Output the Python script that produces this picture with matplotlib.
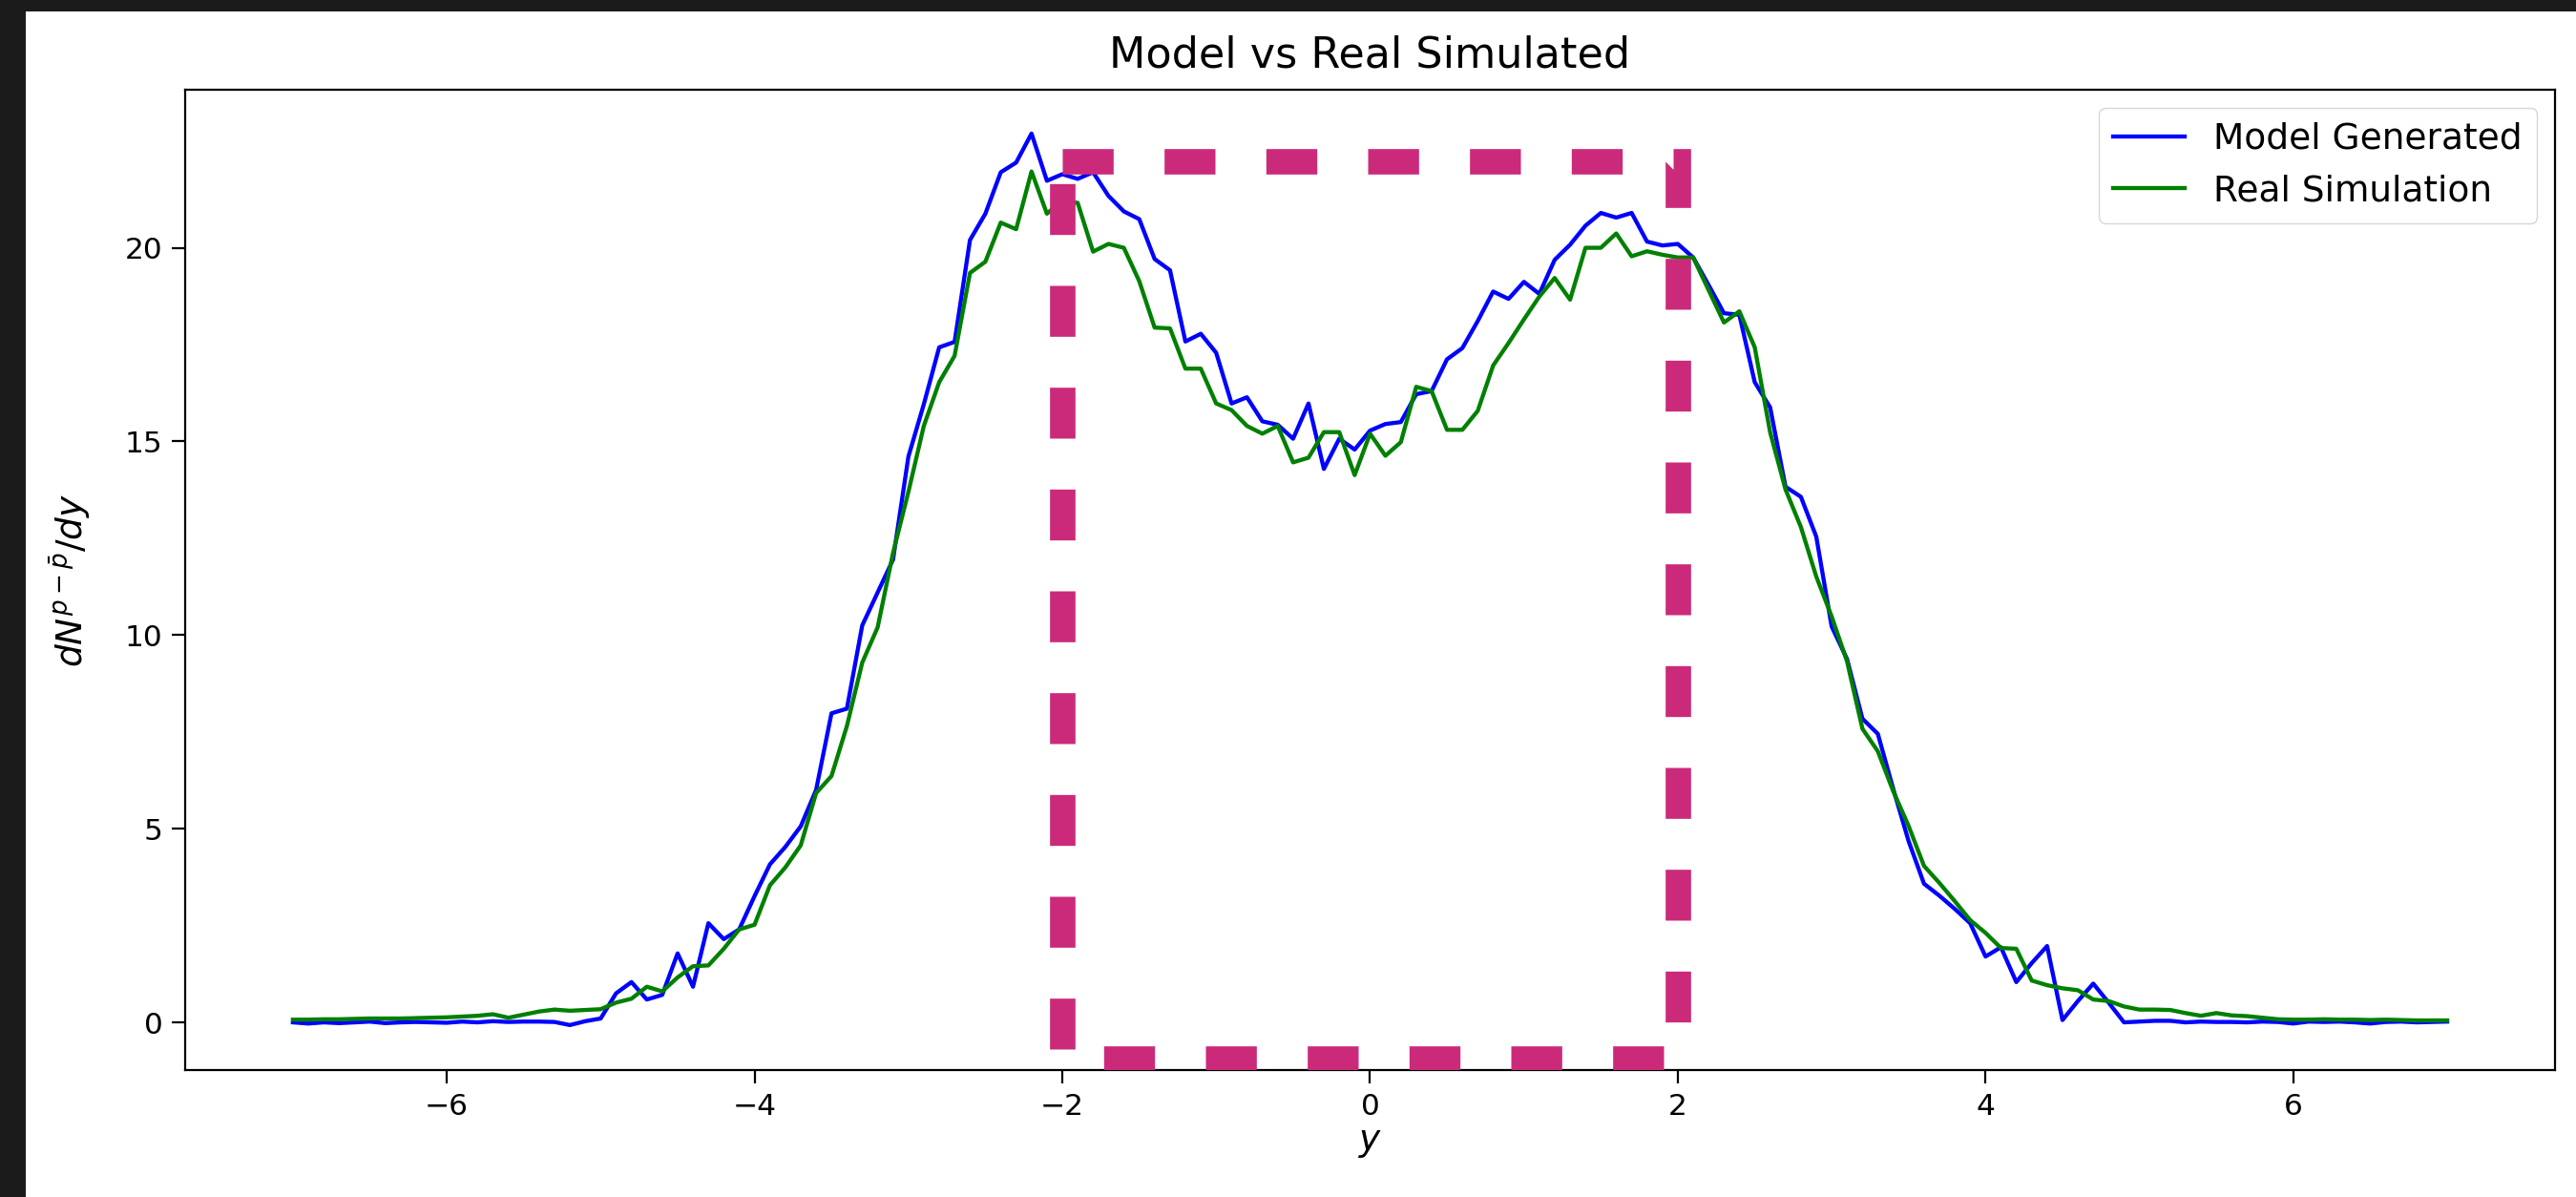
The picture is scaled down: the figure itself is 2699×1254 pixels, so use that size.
import numpy as np
import matplotlib.pyplot as plt
from matplotlib.patches import Rectangle

# rapidity bins, -7..7 step 0.1
y_bins = np.linspace(-7, 7, 141)

model_generated = [
    0.00, -0.03, 0.00, -0.02, 0.00, 0.02, -0.02, 0.00, 0.01, 0.00,
    -0.01, 0.02, 0.00, 0.03, 0.01, 0.02, 0.02, 0.01, -0.07, 0.03,
    0.10, 0.75, 1.04, 0.59, 0.71, 1.78, 0.92, 2.56, 2.15, 2.40,
    3.26, 4.08, 4.53, 5.06, 6.00, 7.98, 8.10, 10.25, 11.10, 11.95,
    14.61, 15.96, 17.43, 17.57, 20.20, 20.88, 21.95, 22.20, 22.95, 21.73,
    21.90, 21.78, 21.95, 21.34, 20.94, 20.74, 19.71, 19.42, 17.58, 17.78,
    17.29, 15.98, 16.14, 15.52, 15.43, 15.07, 15.98, 14.29, 15.07, 14.79,
    15.28, 15.45, 15.50, 16.22, 16.30, 17.12, 17.41, 18.11, 18.87, 18.68,
    19.12, 18.81, 19.69, 20.08, 20.57, 20.90, 20.78, 20.90, 20.16, 20.06,
    20.10, 19.75, 19.04, 18.31, 18.27, 16.53, 15.88, 13.83, 13.57, 12.54,
    10.22, 9.38, 7.84, 7.45, 6.03, 4.68, 3.58, 3.27, 2.93, 2.56,
    1.70, 1.94, 1.04, 1.53, 1.97, 0.06, 0.55, 1.00, 0.51, 0.00,
    0.02, 0.04, 0.04, 0.00, 0.02, 0.01, 0.01, 0.00, 0.02, 0.01,
    -0.03, 0.02, 0.01, 0.02, 0.00, -0.03, 0.01, 0.02, 0.00, 0.01,
    0.02,
]

real_simulation = [
    0.07, 0.07, 0.08, 0.08, 0.09, 0.10, 0.10, 0.10, 0.11, 0.12,
    0.13, 0.15, 0.17, 0.21, 0.12, 0.20, 0.28, 0.33, 0.30, 0.32,
    0.34, 0.51, 0.61, 0.92, 0.80, 1.16, 1.45, 1.47, 1.90, 2.40,
    2.52, 3.54, 4.00, 4.57, 5.92, 6.36, 7.65, 9.29, 10.20, 12.12,
    13.70, 15.40, 16.53, 17.21, 19.35, 19.64, 20.65, 20.48, 21.97, 20.88,
    21.22, 21.16, 19.90, 20.10, 20.00, 19.14, 17.94, 17.92, 16.88, 16.88,
    15.98, 15.81, 15.40, 15.20, 15.40, 14.46, 14.58, 15.24, 15.24, 14.13,
    15.20, 14.63, 14.98, 16.41, 16.30, 15.30, 15.30, 15.79, 16.96, 17.54,
    18.15, 18.74, 19.22, 18.66, 20.00, 20.00, 20.37, 19.78, 19.91, 19.82,
    19.75, 19.75, 18.91, 18.07, 18.36, 17.43, 15.24, 13.76, 12.79, 11.51,
    10.48, 9.32, 7.58, 7.00, 5.97, 5.07, 4.04, 3.60, 3.13, 2.64,
    2.31, 1.92, 1.90, 1.08, 0.96, 0.88, 0.83, 0.59, 0.55, 0.41,
    0.33, 0.33, 0.32, 0.24, 0.17, 0.24, 0.18, 0.16, 0.12, 0.08,
    0.07, 0.07, 0.08, 0.07, 0.07, 0.06, 0.07, 0.06, 0.05, 0.05,
    0.05,
]

# highlighted window drawn over the plot
box_x = (-2.0, 2.0)
box_y = (-0.93, 22.23)

fig = plt.figure(figsize=(26.99, 12.54), dpi=100, facecolor='#1b1b1b')
# white canvas of the screenshot (dark frame on the top/left)
fig.patches.append(Rectangle((27 / 2699, 0), 1, 1 - 12 / 1254, transform=fig.transFigure,
                             facecolor='white', edgecolor='none', zorder=-10))

ax = fig.add_axes([0.0719, 0.1061, 0.9199, 0.8189])
ax.plot(y_bins, model_generated, color='blue', lw=3.1, label='Model Generated')
ax.plot(y_bins, real_simulation, color='green', lw=3.1, label='Real Simulation')

# box drawn as an open path: top-left -> top-right -> bottom-right -> bottom-left -> top-left
ax.plot([box_x[0], box_x[1], box_x[1], box_x[0], box_x[0]],
        [box_y[1], box_y[1], box_y[0], box_y[0], box_y[1]],
        color='#cb2a7b', lw=19.2, linestyle=(0, (2, 2)), dash_capstyle='butt',
        dash_joinstyle='miter', scalex=False, scaley=False, zorder=5)

ax.set_ylim(-1.23, 24.08)
ax.set_title('Model vs Real Simulated', fontsize=32, pad=17)
ax.set_xlabel('$y$', fontsize=27)
ax.set_ylabel(r'$dN^{p-\bar{p}}/dy$', fontsize=27)
ax.yaxis.set_label_coords(-0.039, 0.5)
ax.tick_params(labelsize=22.5, length=10, width=1.6, pad=7)
for s in ax.spines.values():
    s.set_linewidth(1.6)
ax.legend(loc='upper right', fontsize=27)

plt.savefig('out.png', dpi=100)
